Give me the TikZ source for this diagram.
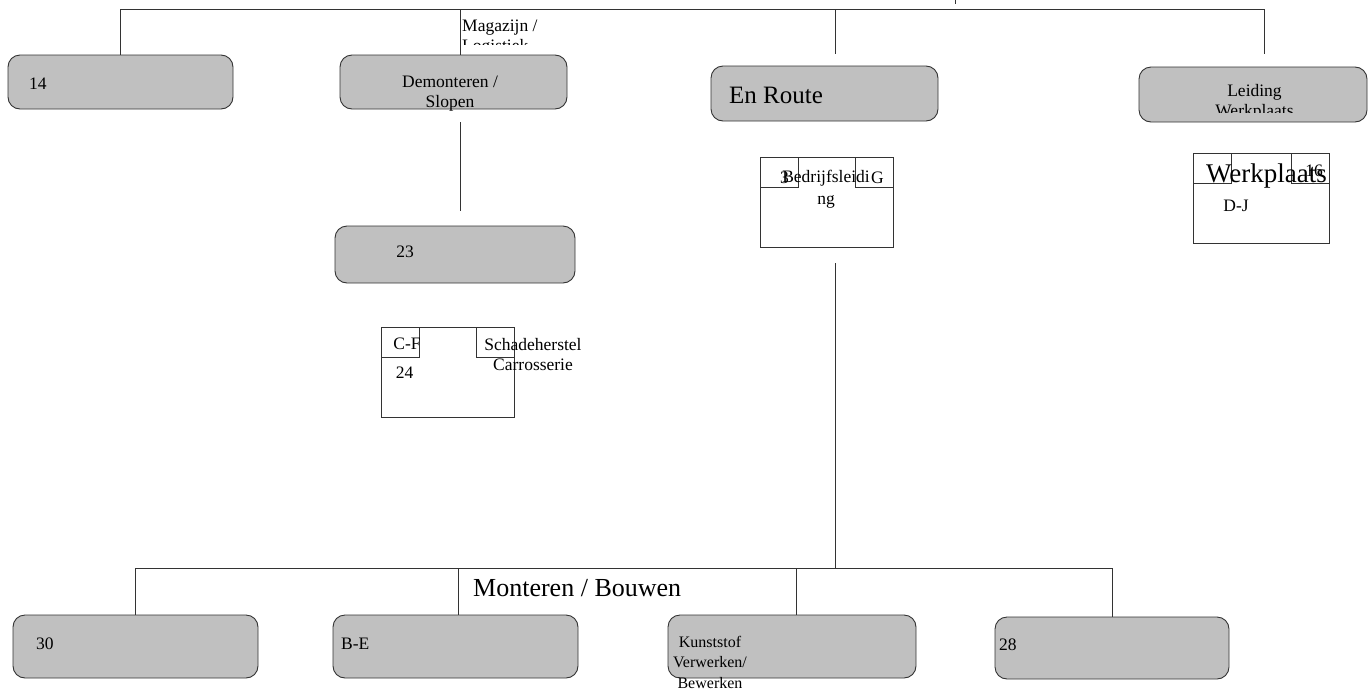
\documentclass[tikz,border=0pt]{standalone}
\usepackage{fontspec}
\setmainfont{Liberation Serif}
\usepackage{xcolor}
\usepackage{tikz}
\usetikzlibrary{positioning}

\definecolor{unitgray}{HTML}{C0C0C0}
\definecolor{edgegray}{HTML}{333333}

\tikzset{
    unit/.style={draw=edgegray, fill=unitgray, rounded corners=12pt,
        inner sep=0pt, line width=0.9pt},
    post/.style={draw=edgegray, fill=white, minimum width=133pt,
        minimum height=90pt, inner sep=0pt, line width=0.9pt},
    tagbox/.style={draw=edgegray, minimum width=38pt, minimum height=30.5pt,
        inner sep=0pt, line width=0.9pt},
    lbl/.style={inner sep=0pt, font=\fontsize{17.5}{20}\selectfont},
    biglbl/.style={inner sep=0pt, font=\fontsize{26}{30}\selectfont},
    link/.style={draw=edgegray, line width=0.9pt},
}

\begin{document}
\begin{tikzpicture}[x=1pt,y=-1pt]
    \useasboundingbox (0,0) rectangle (1369,691);

    \node[unit, minimum width=225pt, minimum height=54pt]
        (unit14) at (120.5,82) {};
    \node[unit, minimum width=227pt, minimum height=54pt]
        (demonteren) at (453.5,82) {};
    \node[unit, minimum width=227pt, minimum height=55pt]
        (enroute) at (824.5,93.5) {};
    \node[unit, minimum width=228pt, minimum height=55pt]
        (leiding) at (1253,94.5) {};
    \node[unit, minimum width=240pt, minimum height=57pt]
        (unit23) at (455,254.5) {};

    \node[unit, minimum width=245pt, minimum height=63pt]
        (unit30) at (135.5,646.5) {};
    \node[unit, minimum width=245pt, minimum height=63pt]
        (unitbe) at (455.5,646.5) {};
    \node[unit, minimum width=248pt, minimum height=63pt]
        (kunststof) at (792,646.5) {};
    \node[unit, minimum width=234pt, minimum height=62pt]
        (unit28) at (1112,648) {};

    \node[post] (schade) at (447.5,372) {};
    \node[tagbox, anchor=north west] (schadeL) at (schade.north west) {};
    \node[tagbox, anchor=north east] (schadeR) at (schade.north east) {};

    \node[post] (bedrijf) at (826.5,202) {};
    \node[tagbox, anchor=north west] (bedrijfL) at (bedrijf.north west) {};
    \node[tagbox, anchor=north east] (bedrijfR) at (bedrijf.north east) {};

    \node[post, minimum width=136pt] (werkplaats) at (1261,198) {};
    \node[tagbox, anchor=north west] (werkplaatsL) at (werkplaats.north west) {};
    \node[tagbox, anchor=north east] (werkplaatsR) at (werkplaats.north east) {};

    % texts
    \node[lbl, anchor=west] (txt14) at (29,83.5) {14};
    \node[lbl, align=center] (txtdemont) at (450,94) {Demonteren /\\Slopen};
    \node[biglbl, anchor=west, font=\fontsize{25}{30}\selectfont]
        (txtenroute) at (729,95) {En Route};
    \begin{scope}
        \clip (1140,60) rectangle (1367,112);
        \node[lbl, align=center] (txtleiding) at (1254.5,102) {Leiding\\Werkplaats};
    \end{scope}
    \begin{scope}
        \clip (455,0) rectangle (600,44.5);
        \node[lbl, align=left, anchor=west] (txtmagazijn) at (462,38) {Magazijn /\\Logistiek};
    \end{scope}
    \node[lbl] (txt23) at (405,251.5) {23};
    \node[lbl] (txtcf) at (407,344) {C-F};
    \node[lbl] (txt24) at (404.5,372.5) {24};
    \node[lbl, align=center] (txtschade) at (533,355) {Schadeherstel\\Carrosserie};
    \node[lbl] (txt3) at (784.5,177.5) {3};
    \node[lbl, align=center] (txtbedrijf) at (826,189) {Bedrijfsleidi\\[2pt]ng};
    \node[lbl] (txtg) at (877.5,177.5) {G};
    \node[lbl] (txt16) at (1314,171) {16};
    \node[biglbl, font=\fontsize{27}{30}\selectfont]
        (txtwerkplaats) at (1266.5,176.5) {Werkplaats};
    \node[lbl] (txtdj) at (1236,206) {D-J};
    \node[biglbl, anchor=west] (txtmonteren) at (473,588) {Monteren / Bouwen};
    \node[lbl, anchor=west] (txt30) at (36,644) {30};
    \node[lbl, anchor=west] (txtbe) at (341,644) {B-E};
    \node[lbl, align=center, font=\fontsize{16}{20.5}\selectfont]
        (txtkunststof) at (710,662) {Kunststof\\Verwerken/\\Bewerken};
    \node[lbl, anchor=west] (txt28) at (999,645) {28};

    % connectors
    \coordinate (railR) at (1264,9);
    \coordinate (railtick) at (955,0);
    \coordinate (lowR) at (1112,568);

    \draw[link] (unit14.north) |- (railR)
        -- ([xshift=11pt,yshift=13pt]leiding.north);
    \draw[link] ([xshift=6.5pt]demonteren.north)
        -- ([xshift=6.5pt]demonteren.north |- railR);
    \draw[link] ([xshift=11pt,yshift=12pt]enroute.north)
        -- ([xshift=11pt]enroute.north |- railR);
    \draw[link] (railtick) -- ++(0,4);
    \draw[link] ([xshift=6.5pt,yshift=-13pt]demonteren.south)
        -- ([xshift=5pt,yshift=15pt]unit23.north);
    \draw[link] ([xshift=9pt,yshift=-16pt]bedrijf.south)
        -- ([xshift=9pt]bedrijf.south |- lowR);

    \draw[link] (unit30.north) |- (lowR) -- (unit28.north);
    \draw[link] ([xshift=2.5pt]unitbe.north)
        -- ([xshift=2.5pt]unitbe.north |- lowR);
    \draw[link] ([xshift=4pt]kunststof.north)
        -- ([xshift=4pt]kunststof.north |- lowR);

\end{tikzpicture}
\end{document}
